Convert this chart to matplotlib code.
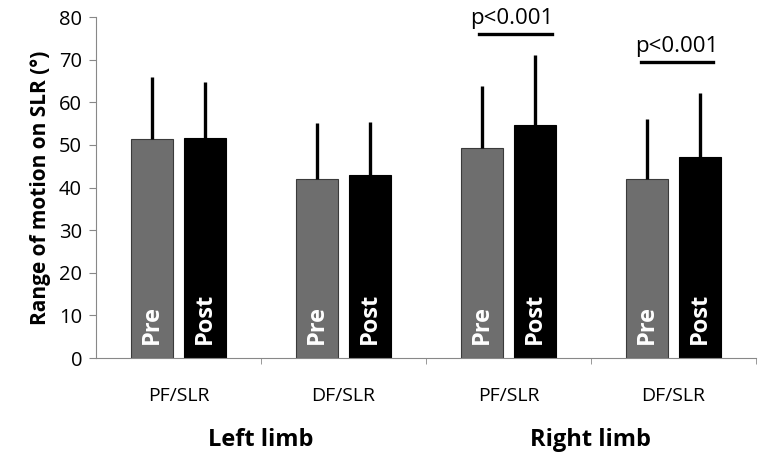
import matplotlib.pyplot as plt
import numpy as np

plt.rcParams['font.family'] = ['Open Sans', 'DejaVu Sans']

# Data
categories = ["PF/SLR", "DF/SLR", "PF/SLR", "DF/SLR"]
groups = ["Left limb", "Right limb"]
pre_mean = [51.4, 42.0, 49.3, 42.1]
pre_sd = [14.5, 13.2, 14.6, 14.0]
post_mean = [51.5, 43.0, 54.6, 47.2]
post_sd = [13.2, 12.4, 16.6, 14.9]

x = np.arange(len(categories))
w = 0.25
off = 0.16

fig = plt.figure(figsize=(7.64, 4.61), dpi=100)
ax = fig.add_axes([96/764, 1-358/461, 660/764, 341/461])

ax.bar(x - off, pre_mean, w, color="#6e6e6e", edgecolor="#3a3a3a", linewidth=0.8,
       yerr=[np.zeros(4), pre_sd], error_kw=dict(ecolor="black", elinewidth=2.4, capsize=0))
ax.bar(x + off, post_mean, w, color="black", edgecolor="black", linewidth=0.8,
       yerr=[np.zeros(4), post_sd], error_kw=dict(ecolor="black", elinewidth=2.4, capsize=0))

# Pre / Post labels inside the bars
for i in x:
    ax.text(i - off, 3.2, "Pre", rotation=90, color="white", fontsize=17,
            fontweight="bold", ha="center", va="bottom")
    ax.text(i + off, 3.2, "Post", rotation=90, color="white", fontsize=17,
            fontweight="bold", ha="center", va="bottom")

# Significance markers
ax.plot([1.821, 2.264], [76.0, 76.0], color="black", lw=2.4)
ax.text(2.02, 77.2, "p<0.001", ha="center", va="bottom", fontsize=16)
ax.plot([2.803, 3.239], [69.4, 69.4], color="black", lw=2.4)
ax.text(3.02, 70.6, "p<0.001", ha="center", va="bottom", fontsize=16)

ax.set_xlim(-0.5, 3.5)
ax.set_ylim(0, 80)
ax.set_yticks(range(0, 81, 10))
ax.set_xticks(x)
ax.set_xticklabels(categories, fontsize=14)
ax.tick_params(axis="x", length=0, pad=21)
ax.set_xticks([0.5, 1.5, 2.5, 3.5], minor=True)
ax.tick_params(axis="x", which="minor", length=4, color="#888888")
ax.tick_params(axis="y", labelsize=14.5, length=5, color="#888888", pad=5)

for s in ["top", "right"]:
    ax.spines[s].set_visible(False)
for s in ["left", "bottom"]:
    ax.spines[s].set_color("#888888")

ax.set_ylabel("Range of motion on SLR (°)", fontsize=15, fontweight="bold", labelpad=6)

# Group labels
ax.text(0.5, -0.24, groups[0], transform=ax.get_xaxis_transform(), ha="center",
        va="center", fontsize=17, fontweight="bold")
ax.text(2.5, -0.24, groups[1], transform=ax.get_xaxis_transform(), ha="center",
        va="center", fontsize=17, fontweight="bold")

plt.savefig("out.png", dpi=100)
